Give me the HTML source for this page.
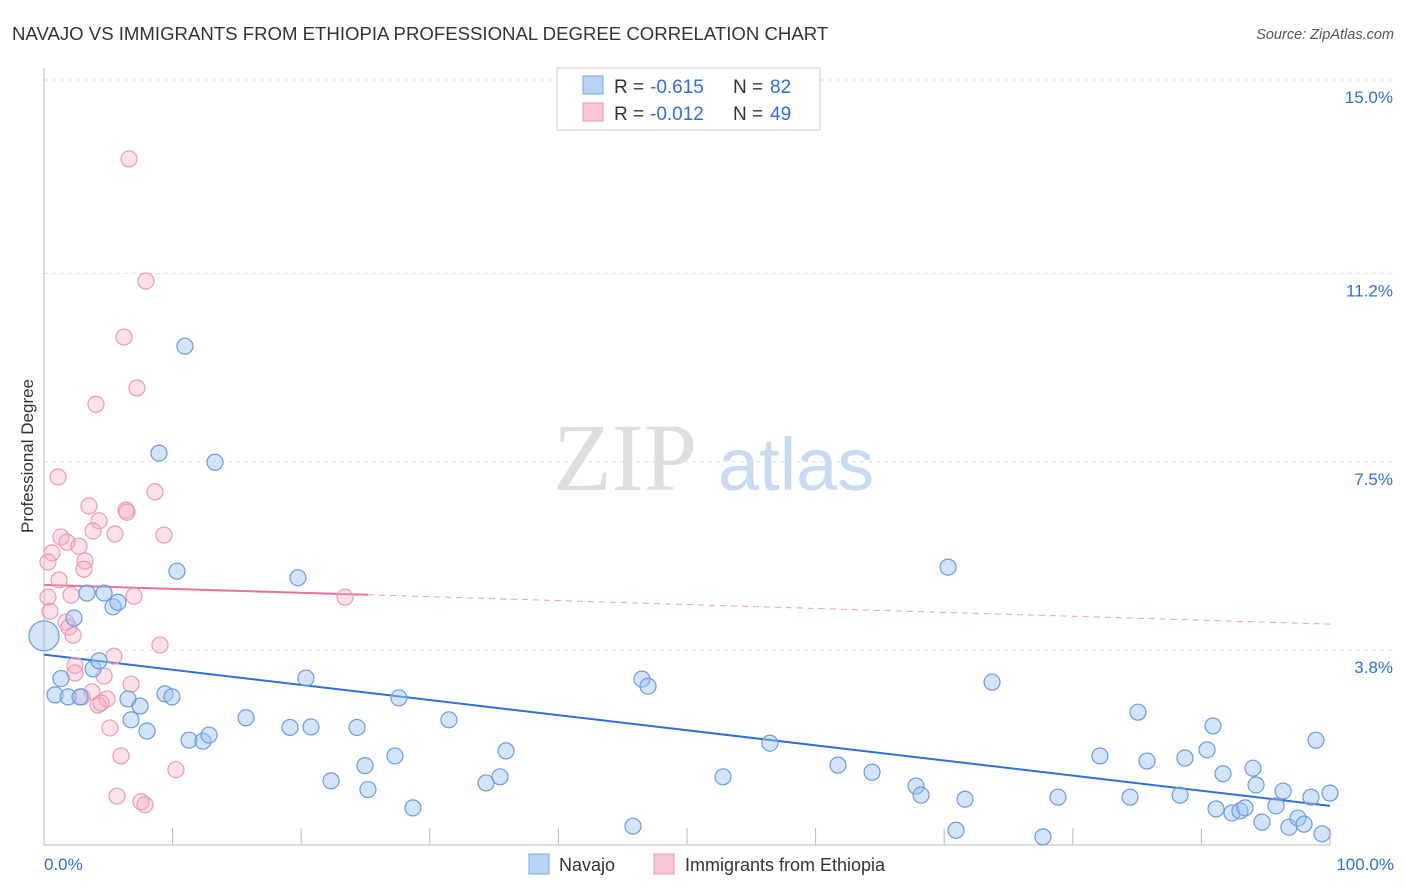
<!DOCTYPE html>
<html><head><meta charset="utf-8">
<style>
body{margin:0;background:#fff;font-family:"Liberation Sans",sans-serif;}
svg{display:block}
</style></head>
<body>
<svg id="chart" width="1406" height="892" xmlns="http://www.w3.org/2000/svg" font-family="Liberation Sans, sans-serif">
<text x="12" y="40" font-size="18.6" fill="#333">NAVAJO VS IMMIGRANTS FROM ETHIOPIA PROFESSIONAL DEGREE CORRELATION CHART</text>
<text x="1394" y="39" font-size="14.5" fill="#555" text-anchor="end" font-style="italic">Source: ZipAtlas.com</text>
<g>
<text x="553" y="490" font-size="96" font-family="Liberation Serif, serif" fill="#dedede">ZIP</text>
<text x="718" y="490" font-size="74" fill="#c9daf2">atlas</text>
</g>
<text transform="translate(33,456) rotate(-90)" font-size="17" fill="#333" text-anchor="middle">Professional Degree</text>
<g id="grid"></g>
<g id="axes"></g>
<g id="trend"></g>
<g id="pts"></g>
<g>
<rect x="557" y="68" width="263" height="62" fill="#fff" stroke="#ccc"/>
<rect x="583" y="76" width="20" height="18" fill="#b8d2f4" stroke="#7aa6e4"/>
<rect x="583" y="103" width="20" height="18" fill="#f9c7d6" stroke="#ee9ab5"/>
<text x="614" y="93" font-size="19" fill="#333">R =</text>
<text x="650" y="93" font-size="19" fill="#2f6fd6">-0.615</text>
<text x="733" y="93" font-size="19" fill="#333">N =</text>
<text x="770" y="93" font-size="19" fill="#2f6fd6">82</text>
<text x="614" y="120" font-size="19" fill="#333">R =</text>
<text x="650" y="120" font-size="19" fill="#2f6fd6">-0.012</text>
<text x="733" y="120" font-size="19" fill="#333">N =</text>
<text x="770" y="120" font-size="19" fill="#2f6fd6">49</text>
</g>
<g>
<rect x="529" y="854" width="20" height="20" fill="#b8d2f4" stroke="#7aa6e4"/>
<text x="559" y="871" font-size="18" fill="#333">Navajo</text>
<rect x="654" y="854" width="20" height="20" fill="#f9c7d6" stroke="#ee9ab5"/>
<text x="685" y="871" font-size="18" fill="#333">Immigrants from Ethiopia</text>
</g>
</svg>
<script>
const yTicks=[3.8,7.5,11.2,15.0];
const yTickLabels=["3.8%","7.5%","11.2%","15.0%"];
const xTickLabels=["0.0%","100.0%"];
const navajoX=[0,0.86,1.32,1.87,2.8,2.33,3.34,3.81,4.28,4.67,5.37,5.75,6.53,6.77,7.47,8.01,8.94,9.41,9.95,10.34,10.96,11.28,12.36,12.83,13.3,15.71,19.13,19.75,20.37,20.76,22.32,24.34,24.96,25.19,27.29,27.6,28.69,31.49,34.37,35.46,35.93,45.8,46.5,46.97,52.8,56.45,61.74,64.39,67.81,68.2,70.3,70.92,71.62,73.72,77.68,78.85,82.11,84.45,85.07,85.77,88.34,88.72,90.44,90.9,91.14,91.68,92.38,93.0,93.39,94.01,94.25,94.71,95.8,96.35,96.81,97.51,97.98,98.52,98.91,99.38,100];
const navajoY=[4.08,2.92,3.24,2.88,2.88,4.43,4.92,3.43,3.59,4.92,4.65,4.74,2.84,2.43,2.70,2.21,7.67,2.94,2.88,5.35,9.77,2.03,2.01,2.13,7.49,2.47,2.28,5.22,3.25,2.29,1.23,2.28,1.53,1.06,1.72,2.86,0.70,2.43,1.19,1.31,1.82,0.34,3.23,3.09,1.31,1.97,1.54,1.40,1.13,0.95,5.43,0.26,0.87,3.17,0.13,0.91,1.72,0.91,2.58,1.62,0.95,1.68,1.84,2.31,0.68,1.37,0.60,0.64,0.70,1.48,1.15,0.42,0.74,1.03,0.32,0.50,0.38,0.91,2.03,0.19,0.99];
const ethX=[6.61,7.93,6.22,7.23,4.04,1.09,3.5,8.63,6.38,6.45,9.33,4.28,3.81,5.52,1.32,1.79,2.72,0.62,0.31,3.19,3.11,1.17,2.1,0.31,7.0,23.41,0.47,1.71,1.94,2.26,5.44,9.02,2.41,2.41,4.67,6.77,3.73,2.95,4.9,4.2,4.43,5.13,5.99,10.26,5.68,7.54,7.85];
const ethY=[13.45,11.05,9.95,8.95,8.63,7.2,6.63,6.91,6.55,6.51,6.06,6.34,6.14,6.08,6.02,5.92,5.84,5.71,5.53,5.55,5.39,5.18,4.88,4.84,4.86,4.84,4.56,4.35,4.25,4.09,3.68,3.90,3.50,3.35,3.29,3.13,2.98,2.88,2.84,2.72,2.76,2.27,1.72,1.45,0.93,0.82,0.76];
const navajoTrend=[3.71,0.74];
const ethTrend=[5.08,4.31];
const ethSolidEnd=25.2;

const NS="http://www.w3.org/2000/svg";
const X0=44,X1=1330,YB=843.5,PX=50.9;
const sx=v=>X0+(X1-X0)*v/100;
const sy=v=>YB-v*PX;
function mk(tag,attrs,parent){const e=document.createElementNS(NS,tag);for(const k in attrs)e.setAttribute(k,attrs[k]);document.getElementById(parent).appendChild(e);return e;}

yTicks.forEach((t,i)=>{
 const g=mk('line',{x1:44,x2:1395,y1:sy(t),y2:sy(t),stroke:'#ddd','stroke-dasharray':'4,4'},'grid');
 
 
 const l=mk('text',{x:1393,y:sy(t)+23,'font-size':17,fill:'#2f6fd6','text-anchor':'end'},'grid');
 l.textContent=yTickLabels[i];
 
 
});
const ya=mk('line',{x1:44,x2:44,y1:68,y2:845,stroke:'#bbb'},'axes');


const xa=mk('line',{x1:44,x2:1330,y1:845,y2:845,stroke:'#bbb'},'axes');


for(let p=10;p<=100;p+=10){
 const t=mk('line',{x1:sx(p),x2:sx(p),y1:828,y2:845,stroke:'#bbb'},'axes');
 
 
}
[[0,'start',44],[100,'end',1394]].forEach((d,i)=>{
 const l=mk('text',{x:d[2],y:870,'font-size':17,fill:'#2f6fd6','text-anchor':d[1]},'axes');
 l.textContent=xTickLabels[i];
 
 
});

const nl=mk('line',{x1:sx(0),y1:sy(navajoTrend[0]),x2:sx(100),y2:sy(navajoTrend[1]),stroke:'#2f6fd6','stroke-width':2},'trend');


const ey=x=>ethTrend[0]+(ethTrend[1]-ethTrend[0])*x/100;
const el1=mk('line',{x1:sx(0),y1:sy(ey(0)),x2:sx(ethSolidEnd),y2:sy(ey(ethSolidEnd)),stroke:'#e8739a','stroke-width':2},'trend');


const el2=mk('line',{x1:sx(ethSolidEnd),y1:sy(ey(ethSolidEnd)),x2:sx(100),y2:sy(ey(100)),stroke:'#e8739a','stroke-width':1,'stroke-dasharray':'6,5',opacity:0.7},'trend');



ethX.forEach((x,i)=>{
 const c=mk('circle',{cx:sx(x),cy:sy(ethY[i]),r:8,fill:'rgba(245,170,195,0.35)',stroke:'#ec9ab4','stroke-width':1.2},'pts');
 
 
});
navajoX.forEach((x,i)=>{
 const c=mk('circle',{cx:sx(x),cy:sy(navajoY[i]),r:i===0?15:8,fill:'rgba(160,195,240,0.45)',stroke:'#6a9be0','stroke-width':1.2},'pts');
 
 
});
</script>
</body></html>
